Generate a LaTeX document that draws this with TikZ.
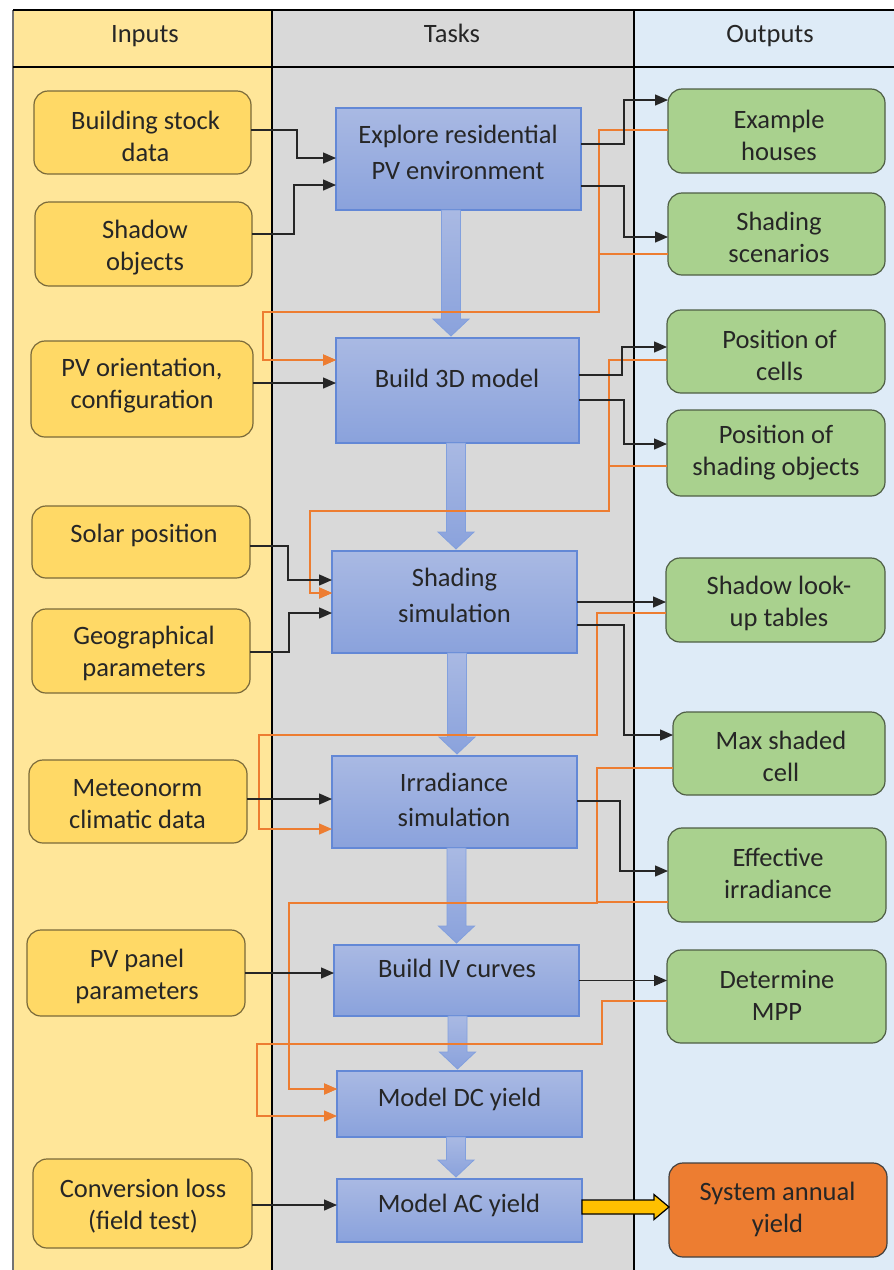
\documentclass[tikz,border=0pt]{standalone}
\usepackage{fontspec}
\setmainfont{Carlito}
\usetikzlibrary{arrows.meta,calc}
\definecolor{inbg}{HTML}{FFE699}
\definecolor{taskbg}{HTML}{D9D9D9}
\definecolor{outbg}{HTML}{DEEBF7}
\definecolor{infill}{HTML}{FFD966}
\definecolor{indraw}{HTML}{7A6A3A}
\definecolor{outfill}{HTML}{A9D18E}
\definecolor{outdraw}{HTML}{4F5F45}
\definecolor{tasktop}{HTML}{A9B9E3}
\definecolor{taskbot}{HTML}{8AA2DC}
\definecolor{taskdraw}{HTML}{6388D6}
\definecolor{orng}{HTML}{ED7D31}
\definecolor{gold}{HTML}{FFC000}
\definecolor{txtc}{HTML}{262626}
\newcommand\blockdown[3]{%
  \path ($(#1.south)+(#3,0)$) coordinate (bs) ($(bs |- #2.north)+(0,-2)$) coordinate (bt);
  \draw[barrow] ($(bs)+(-9.5,0)$) -- ($(bt)+(-9.5,-17)$) -- ($(bt)+(-18,-17)$) -- (bt)
     -- ($(bt)+(18,-17)$) -- ($(bt)+(9.5,-17)$) -- ($(bs)+(9.5,0)$) -- cycle;
}
\begin{document}
\begin{tikzpicture}[x=1pt,y=-1pt,
  inbox/.style={draw=indraw, fill=infill, rounded corners=14pt, line width=1.2pt, inner sep=0pt, outer sep=0pt},
  outbox/.style={draw=outdraw, fill=outfill, rounded corners=14pt, line width=1.2pt, inner sep=0pt, outer sep=0pt},
  sysbox/.style={draw=black!75, fill=orng, rounded corners=14pt, line width=1.2pt, inner sep=0pt, outer sep=0pt},
  taskbox/.style={draw=taskdraw, top color=tasktop, bottom color=taskbot, line width=1.2pt, inner sep=0pt, outer sep=0pt},
  txt/.style={font=\fontsize{26.5}{32}\selectfont, align=center, text=txtc, inner sep=0pt},
  ttxt/.style={font=\fontsize{26.5}{35.5}\selectfont, align=center, text=txtc, inner sep=0pt},
  blk/.style={-{Triangle[length=13pt,width=11pt]}, line width=1.4pt, draw=black!85},
  org/.style={-{Triangle[length=13pt,width=11pt]}, line width=1.3pt, draw=orng},
  barrow/.style={draw=taskdraw!80, line width=0.8pt, top color=tasktop, bottom color=taskbot},
  yarrow/.style={draw=black, line width=1.2pt, fill=gold}
]
\useasboundingbox (0,0) rectangle (894,1270);
\fill[white] (0,0) rectangle (894,1270);
\fill[inbg] (13,10) rectangle (272,1270);
\fill[taskbg] (272,10) rectangle (634,1270);
\fill[outbg] (634,10) rectangle (894,1270);
\draw[black!55, line width=1.2pt] (13,10) -- (13,1270);
\draw[line width=1.5pt] (13,10) -- (894,10);
\draw[line width=2pt] (13,67) -- (894,67);
\draw[line width=2pt] (272,10) -- (272,1270);
\draw[line width=2pt] (634,10) -- (634,1270);

% headers
\node[txt, anchor=base] (h1) at (145,42) {Inputs};
\node[txt, anchor=base] (h2) at (452,42) {Tasks};
\node[txt, anchor=base] (h3) at (770,42) {Outputs};

% block arrows first (under boxes)
\node[taskbox, minimum width=245pt, minimum height=102pt] (t1) at (458.5,159) {};
\node[taskbox, minimum width=243pt, minimum height=105pt] (t2) at (457.5,390.5) {};
\node[taskbox, minimum width=245pt, minimum height=102pt] (t3) at (454.5,602) {};
\node[taskbox, minimum width=245pt, minimum height=92pt] (t4) at (454.5,802) {};
\node[taskbox, minimum width=245pt, minimum height=71pt] (t5) at (456.5,980.5) {};
\node[taskbox, minimum width=245pt, minimum height=66pt] (t6) at (459.5,1104) {};
\node[taskbox, minimum width=245pt, minimum height=63pt] (t7) at (459.5,1210.5) {};

\blockdown{t1}{t2}{-7.5}
\blockdown{t2}{t3}{-1.5}
\blockdown{t3}{t4}{2.5}
\blockdown{t4}{t5}{2}
\blockdown{t5}{t6}{1}
\blockdown{t6}{t7}{-3.5}

\node[ttxt] (t1t) at (458,152.5) {Explore residential\\PV environment};
\node[ttxt, anchor=base] (t2t) at (457,387) {Build 3D model};
\node[ttxt] (t3t) at (454.5,595.5) {Shading\\simulation};
\node[ttxt] (t4t) at (454,800) {Irradiance\\simulation};
\node[ttxt, anchor=base] (t5t) at (457,977) {Build IV curves};
\node[ttxt, anchor=base] (t6t) at (459.5,1106) {Model DC yield};
\node[ttxt, anchor=base] (t7t) at (459,1212) {Model AC yield};

% inputs
\node[inbox, minimum width=217pt, minimum height=83pt] (i1) at (142.5,132.5) {};
\node[inbox, minimum width=217pt, minimum height=84pt] (i2) at (143.5,244) {};
\node[inbox, minimum width=222pt, minimum height=96pt] (i3) at (142,389) {};
\node[inbox, minimum width=218pt, minimum height=72pt] (i4) at (141,542) {};
\node[inbox, minimum width=218pt, minimum height=84pt] (i5) at (141,651) {};
\node[inbox, minimum width=218pt, minimum height=83pt] (i6) at (138,801.5) {};
\node[inbox, minimum width=218pt, minimum height=86pt] (i7) at (136,973) {};
\node[inbox, minimum width=219pt, minimum height=89pt] (i8) at (142.5,1203.5) {};
\node[txt] (i1t) at (145.5,136) {Building stock\\data};
\node[txt] (i2t) at (145,248) {Shadow\\objects};
\node[txt] (i3t) at (142,386) {PV orientation,\\configuration};
\node[txt, anchor=base] (i4t) at (144,542) {Solar position};
\node[txt] (i5t) at (144,653.5) {Geographical\\parameters};
\node[txt] (i6t) at (137.5,804) {Meteonorm\\climatic data};
\node[txt] (i7t) at (137,976) {PV panel\\parameters};
\node[txt] (i8t) at (143,1206) {Conversion loss\\(field test)};

% outputs
\node[outbox, minimum width=217pt, minimum height=84pt] (o1) at (776.5,131) {};
\node[outbox, minimum width=217pt, minimum height=82pt] (o2) at (776.5,234) {};
\node[outbox, minimum width=218pt, minimum height=83pt] (o3) at (776,351.5) {};
\node[outbox, minimum width=218pt, minimum height=86pt] (o4) at (776,453) {};
\node[outbox, minimum width=219pt, minimum height=84pt] (o5) at (775.5,600) {};
\node[outbox, minimum width=212pt, minimum height=83pt] (o6) at (779,753.5) {};
\node[outbox, minimum width=218pt, minimum height=94pt] (o7) at (777,875) {};
\node[outbox, minimum width=219pt, minimum height=93pt] (o8) at (776.5,996.5) {};
\node[sysbox, minimum width=218pt, minimum height=94pt] (o9) at (778,1210) {};
\node[txt] (o1t) at (779,135) {Example\\houses};
\node[txt] (o2t) at (779,237) {Shading\\scenarios};
\node[txt] (o3t) at (779.5,355) {Position of\\cells};
\node[txt] (o4t) at (776,453) {Position of\\shading objects};
\node[txt] (o5t) at (779,603.5) {Shadow look-\\up tables};
\node[txt] (o6t) at (781,756) {Max shaded\\cell};
\node[txt] (o7t) at (778,873) {Effective\\irradiance};
\node[txt] (o8t) at (777,995.5) {Determine\\MPP};
\node[txt] (o9t) at (777.5,1209) {System annual\\yield};

% orange feedback lines
\draw[org] ([yshift=1pt]o1.west) -| (599,312) -| (263,360) -- ([yshift=30.5pt]t2.west);
\draw[org] ([yshift=-20pt]o2.west) -| (599,312) -| (263,360) -- ([yshift=30.5pt]t2.west);
\draw[org] ([yshift=-8.5pt]o3.west) -| (609,511) -| (310,593) -- ([yshift=9pt]t3.west);
\draw[org] ([yshift=-13pt]o4.west) -| (609,511) -| (310,593) -- ([yshift=9pt]t3.west);
\draw[org] ([yshift=-13pt]o5.west) -| (597,735) -| (259,829) -- ([yshift=-27pt]t4.west);
\draw[org] ([yshift=-14.5pt]o6.west) -| (597,903) -| (289,1089) -- ([yshift=15pt]t6.west);
\draw[org] ([yshift=-27pt]o7.west) -| (597,903) -| (289,1089) -- ([yshift=15pt]t6.west);
\draw[org] ([yshift=-4.5pt]o8.west) -| (602,1044) -| (257,1116) -- ([yshift=-12pt]t6.west);

% black connectors: inputs to tasks
\draw[blk] ([yshift=2.5pt]i1.east) -| (297,158) -- ([yshift=1pt]t1.west);
\draw[blk] ([yshift=10pt]i2.east) -| (294,185) -- ([yshift=-26pt]t1.west);
\draw[blk] ([yshift=6pt]i3.east) -- ([yshift=7.5pt]t2.west);
\draw[blk] ([yshift=-4pt]i4.east) -| (288,580) -- ([yshift=22pt]t3.west);
\draw[blk] ([yshift=-1pt]i5.east) -| (289,613) -- ([yshift=-11pt]t3.west);
\draw[blk] ([yshift=2.5pt]i6.east) -- ([yshift=3pt]t4.west);
\draw[blk] (i7.east) -- ([yshift=7.5pt]t5.west);
\draw[blk] ([yshift=-1.5pt]i8.east) -- ([yshift=5.5pt]t7.west);

% black connectors: tasks to outputs
\draw[blk] ([yshift=15pt]t1.east) -| (624,100) -- ([yshift=31pt]o1.west);
\draw[blk] ([yshift=-27pt]t1.east) -| (624,237) -- ([yshift=-3pt]o2.west);
\draw[blk] ([yshift=15.5pt]t2.east) -| (622,347) -- ([yshift=4.5pt]o3.west);
\draw[blk] ([yshift=-9.5pt]t2.east) -| (624,444) -- ([yshift=9pt]o4.west);
\draw[blk] (t3.east) -- (t3.east -| o5.west);
\draw[blk] ([yshift=-23pt]t3.east) -| (624,735) -- ([yshift=18.5pt]o6.west);
\draw[blk] ([yshift=1pt]t4.east) -| (620,871) -- ([yshift=4pt]o7.west);
\draw[blk] (t5.east) -- (t5.east -| o8.west);

% yellow block arrow
\path ([yshift=3.5pt]t7.east) coordinate (ys) (ys -| o9.west) coordinate (ye);
\draw[yarrow] ($(ys)+(0,-7)$) -- ($(ye)+(-15,-7)$) -- ($(ye)+(-15,-12.5)$) -- (ye)
  -- ($(ye)+(-15,12.5)$) -- ($(ye)+(-15,7)$) -- ($(ys)+(0,7)$) -- cycle;
\end{tikzpicture}
\end{document}
